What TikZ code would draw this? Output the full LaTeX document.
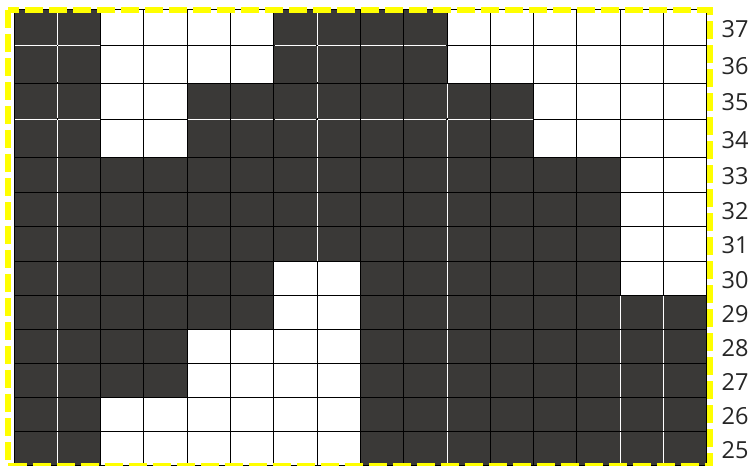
\documentclass[tikz,border=0pt]{standalone}
\usepackage{fontspec}
\setmainfont{Open Sans}
\definecolor{cellfonce}{RGB}{58,57,55}
\definecolor{jaune}{RGB}{255,255,0}
\tikzset{
  case/.style={fill=cellfonce, draw=none},
  trait/.style={draw=black, line width=0.9pt},
  joint/.style={draw=white, line width=0.9pt, shorten <=0.7pt, shorten >=0.7pt},
  cadre/.style={draw=jaune, line width=5.5pt, dash pattern=on 18pt off 6pt},
  numero/.style={font=\fontsize{23.5}{26}\selectfont, text=black!85, inner sep=0pt, anchor=center},
}
% bords des lignes (du haut vers le bas)
\def\lignes{{9.3,45.7,83,119,157.3,192.3,226.7,261.3,295.3,329.3,363.3,397.7,431.7,465}}

\begin{document}
\begin{tikzpicture}[x=1pt, y=-1pt]
    \useasboundingbox (0,0) rectangle (753,466);
    % Cases foncees : plages de colonnes par ligne
    \foreach \i/\plages in {0/{1/2,7/10}, 1/{1/2,7/10}, 2/{1/2,5/12}, 3/{1/2,5/12},
        4/{1/14}, 5/{1/14}, 6/{1/14}, 7/{1/6,9/14}, 8/{1/6,9/16},
        9/{1/4,9/16}, 10/{1/4,9/16}, 11/{1/2,9/16}, 12/{1/2,9/16}} {
      \pgfmathsetmacro\yh{\lignes[\i]}
      \pgfmathsetmacro\yb{\lignes[\i+1]}
      \foreach \a/\b in \plages
        \fill[case] ({14+43.3*(\a-1)},\yh) rectangle ({14+43.3*\b},\yb);
    }
    % Quadrillage
    \foreach \c in {0,...,16}
      \draw[trait] ({14+43.3*\c},9.3) -- ({14+43.3*\c},465);
    \foreach \y in {9.3,45.7,83,119,157.3,192.3,226.7,261.3,295.3,329.3,363.3,397.7,431.7,465}
      \draw[trait] (14,\y) -- (706.8,\y);
    % Joints blancs entre cases foncees
    \foreach \c/\de/\jusqua in {1/0/12, 7/0/6, 10/2/12, 14/8/12, 15/8/12}
      \foreach \i in {\de,...,\jusqua} {
        \pgfmathsetmacro\yh{\lignes[\i]}
        \pgfmathsetmacro\yb{\lignes[\i+1]}
        \draw[joint] ({14+43.3*\c},\yh) -- ({14+43.3*\c},\yb);
      }
    \foreach \l/\a/\b in {1/1/2, 1/7/10, 3/1/2, 3/5/12}
      \foreach \c in {\a,...,\b} {
        \pgfmathsetmacro\yl{\lignes[\l]}
        \draw[joint] ({14+43.3*(\c-1)},\yl) -- ({14+43.3*\c},\yl);
      }
    % Cadre jaune
    \draw[cadre] (8,10) rectangle (710,465.5);
    % Numeros des lignes
    \foreach \i in {0,...,12} {
      \pgfmathtruncatemacro\n{37-\i}
      \pgfmathsetmacro\yh{\lignes[\i]}
      \pgfmathsetmacro\yb{\lignes[\i+1]}
      \pgfmathsetmacro\ym{(\yh+\yb)/2+1.5}
      \node[numero] (num\n) at (735,\ym) {\n};
    }
\end{tikzpicture}
\end{document}
